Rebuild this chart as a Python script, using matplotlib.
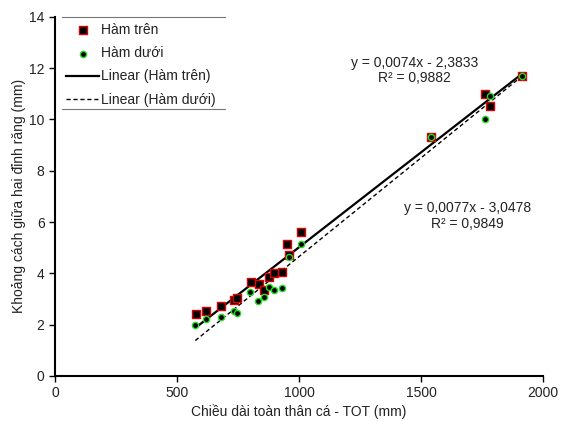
import matplotlib.pyplot as plt
import matplotlib.lines as mlines
import numpy as np

plt.rcParams['font.family'] = ['Liberation Sans', 'DejaVu Sans']

# Total length (mm) and tooth distance (mm), upper jaw
tot_tren = [576, 620, 680, 732, 747, 802, 834, 855, 876, 896, 930, 952, 958, 1008, 1541, 1763, 1782, 1913]
ham_tren = [2.43, 2.52, 2.72, 2.98, 3.02, 3.67, 3.59, 3.34, 3.87, 4.03, 4.07, 5.13, 4.70, 5.62, 9.31, 11.01, 10.52, 11.71]

# lower jaw
tot_duoi = [575, 620, 680, 732, 747, 801, 832, 855, 876, 896, 930, 961, 1010, 1541, 1763, 1782, 1913]
ham_duoi = [1.98, 2.22, 2.29, 2.53, 2.47, 3.29, 2.94, 3.09, 3.46, 3.35, 3.42, 4.62, 5.15, 9.30, 10.01, 10.92, 11.70]

# trendline coefficients as printed on the chart
fit_tren = (0.0074, -2.3833)
fit_duoi = (0.0077, -3.0478)

fig = plt.figure(figsize=(5.61, 4.21), dpi=100)
ax = fig.add_axes([0.098, 0.107, 0.870, 0.853])

ax.scatter(tot_tren, ham_tren, marker='s', s=38, facecolor='black', edgecolor='#e00000',
           linewidth=1.0, zorder=3, label='Hàm trên')
ax.scatter(tot_duoi, ham_duoi, marker='o', s=20, facecolor='black', edgecolor='#22dd22',
           linewidth=1.0, zorder=4, label='Hàm dưới')

xs = np.array([min(tot_tren), max(tot_tren)])
ax.plot(xs, fit_tren[0] * xs + fit_tren[1], color='black', lw=1.6, zorder=2,
        label='Linear (Hàm trên)')
xs = np.array([min(tot_duoi), max(tot_duoi)])
ax.plot(xs, fit_duoi[0] * xs + fit_duoi[1], color='black', lw=1.0, ls=(0, (3, 2)), zorder=2,
        label='Linear (Hàm dưới)')

tc = '#222222'
ax.text(1472, 12.2, 'y = 0,0074x - 2,3833', ha='center', va='center', fontsize=10, color=tc)
ax.text(1472, 11.62, 'R² = 0,9882', ha='center', va='center', fontsize=10, color=tc)
ax.text(1689, 6.55, 'y = 0,0077x - 3,0478', ha='center', va='center', fontsize=10, color=tc)
ax.text(1689, 5.93, 'R² = 0,9849', ha='center', va='center', fontsize=10, color=tc)

ax.set_xlim(0, 2000)
ax.set_ylim(0, 14)
ax.set_xticks([0, 500, 1000, 1500, 2000])
ax.set_yticks(range(0, 15, 2))
ax.tick_params(direction='out', length=4, width=1, labelsize=10, colors=tc)
ax.tick_params(color='black')
for s in ['top', 'right']:
    ax.spines[s].set_visible(False)
for s in ['left', 'bottom']:
    ax.spines[s].set_linewidth(1.5)

ax.set_xlabel('Chiều dài toàn thân cá - TOT (mm)', fontsize=10, labelpad=3, color=tc)
ax.set_ylabel('Khoảng cách giữa hai đỉnh răng (mm)', fontsize=10, labelpad=2, color=tc)

leg = ax.legend(loc='upper left', bbox_to_anchor=(0.01, 1.0), frameon=False, fontsize=10,
                labelspacing=0.66, handlelength=2.4, handletextpad=0.1, borderaxespad=0.05)
for t in leg.get_texts():
    t.set_color(tc)
for y in (1.0, 0.744):
    ax.add_line(mlines.Line2D([0.014, 0.348], [y, y], transform=ax.transAxes,
                              color='#777777', lw=0.8, clip_on=False))

fig.savefig('out.png', dpi=100)
